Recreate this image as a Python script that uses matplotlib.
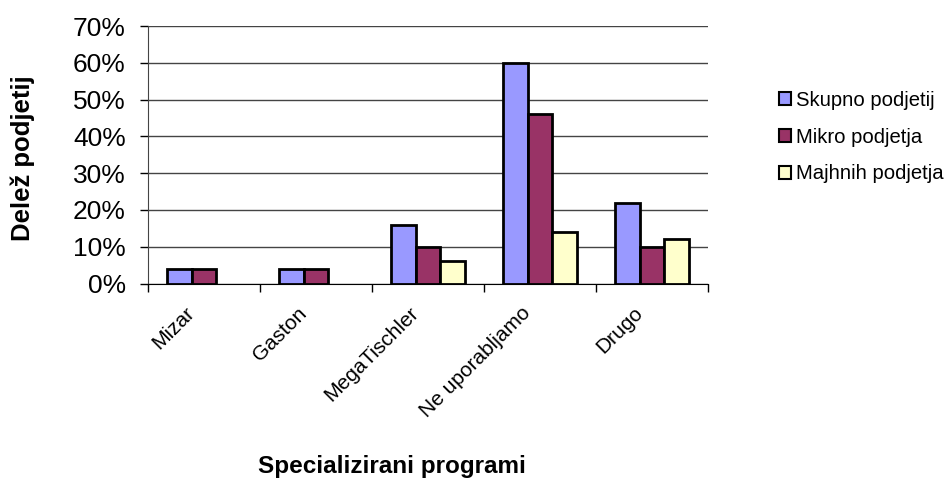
import numpy as np
import matplotlib.pyplot as plt

plt.rcParams['font.family'] = ['Liberation Sans', 'DejaVu Sans']

categories = ['Mizar', 'Gaston', 'MegaTischler', 'Ne uporabljamo', 'Drugo']
skupno = [4, 4, 16, 60, 22]
mikro = [4, 4, 10, 46, 10]
majhnih = [0, 0, 6, 14, 12]
series_names = ['Skupno podjetij', 'Mikro podjetja', 'Majhnih podjetja']
colors = ['#9999FF', '#993366', '#FFFFCC']

fig = plt.figure(figsize=(9.49, 4.82), dpi=100)
ax = fig.add_axes([148 / 949, 1 - 283.5 / 482, 560 / 949, 257.5 / 482])

x = np.arange(len(categories))
w = 0.223
for i, (vals, name, c) in enumerate(zip([skupno, mikro, majhnih], series_names, colors)):
    vals = np.array(vals, dtype=float)
    mask = vals > 0
    ax.bar(x[mask] + (i - 1) * w, vals[mask], width=w, color=c,
           edgecolor='black', linewidth=2, label=name, zorder=3)

ax.set_xlim(-0.5, len(categories) - 0.5)
ax.set_ylim(0, 70)
ax.set_yticks(range(0, 71, 10))
ax.set_yticklabels([f'{v}%' for v in range(0, 71, 10)], fontsize=19)
ax.yaxis.grid(True, color='#444444', linewidth=1, zorder=0)
ax.set_axisbelow(True)

# category ticks sit at the boundaries, labels at centres
ax.set_xticks(np.arange(len(categories) + 1) - 0.5)
ax.set_xticklabels([])
ax.tick_params(axis='x', length=6, width=1, direction='out')
ax.tick_params(axis='y', length=6, width=1, direction='out', pad=10)
for xi, lab in zip(x, categories):
    ax.text(xi - 0.17, -5.5, lab, rotation=45, ha='right', va='top',
            rotation_mode='anchor', fontsize=15, transform=ax.transData)

for s in ['top', 'right']:
    ax.spines[s].set_visible(False)
ax.spines['left'].set_color('#444444')
ax.spines['bottom'].set_color('black')

fig.text(23 / 949, 1 - 158 / 482, 'Delež podjetij', rotation=90, ha='center',
         va='center', fontsize=18.5, fontweight='bold')
fig.text(392 / 949, 1 - 467 / 482, 'Specializirani programi', ha='center',
         va='center', fontsize=17.5, fontweight='bold')

leg = ax.legend(loc='upper left', bbox_to_anchor=(779 / 949, 1 - 91 / 482),
                bbox_transform=fig.transFigure, frameon=False, fontsize=14.6,
                handlelength=0.6, handleheight=0.6, handletextpad=0.25,
                labelspacing=0.87, borderaxespad=0, borderpad=0)
for h in leg.legend_handles:
    h.set_linewidth(1.5)

fig.savefig('out.png', dpi=100)
